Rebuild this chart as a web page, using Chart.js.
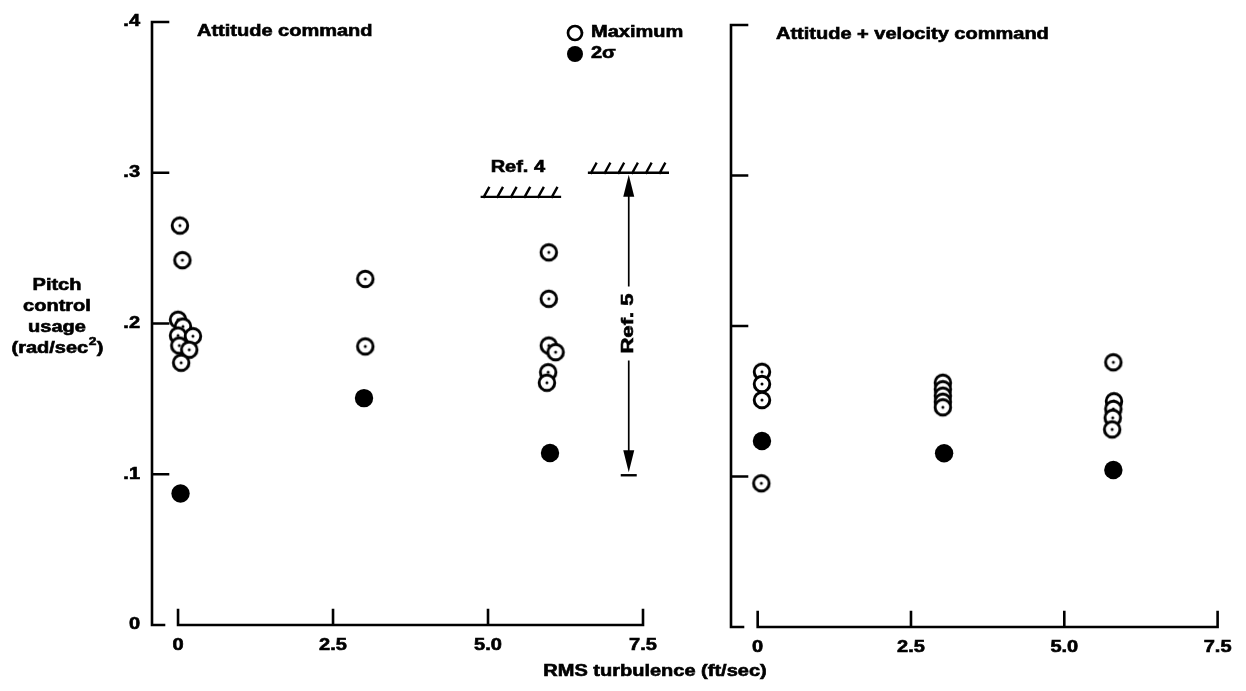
<!DOCTYPE html>
<html>
<head>
<meta charset="utf-8">
<script src="https://cdn.jsdelivr.net/npm/chart.js@4.4.1/dist/chart.umd.min.js"></script>
<style>
  html, body { margin: 0; padding: 0; background: #fff; }
  #wrap { position: relative; width: 1246px; height: 691px; }
  #wrap canvas { position: absolute; left: 0; top: 0; }
</style>
</head>
<body>
<div id="wrap">
  <canvas id="attitude" width="1246" height="691"></canvas>
  <canvas id="velocity" width="1246" height="691"></canvas>
</div>
<script>
// axis ticks (ft/sec on x, rad/sec^2 on y)
const yTicks = [0, 0.1, 0.2, 0.3, 0.4];
const yTickLabels = ['0', '.1', '.2', '.3', '.4'];
const xTicks = [0, 2.5, 5.0, 7.5];
const xTickLabels = ['0', '2.5', '5.0', '7.5'];

// attitude command: maximum (open) and 2 sigma (filled)
const attMaxX = [0.03, 0.07, 0.0, 0.08, 0.0, 0.24, 0.02, 0.18, 0.05, 3.02, 3.02, 5.98, 5.98, 5.98, 6.09, 5.97, 5.95];
const attMaxY = [0.265, 0.242, 0.2025, 0.198, 0.192, 0.1916, 0.1854, 0.1826, 0.174, 0.2296, 0.1848, 0.2472, 0.2164, 0.1854, 0.181, 0.1677, 0.1607];
const attSigmaX = [0.04, 3.0, 6.0];
const attSigmaY = [0.0872, 0.1505, 0.1141];

// attitude + velocity command
const velMaxX = [0.07, 0.07, 0.07, 0.06, 3.02, 3.02, 3.02, 3.02, 3.02, 5.80, 5.81, 5.80, 5.79, 5.78];
const velMaxY = [0.1696, 0.1615, 0.1508, 0.0955, 0.1623, 0.158, 0.1537, 0.1497, 0.146, 0.1759, 0.150, 0.1449, 0.139, 0.1313];
const velSigmaX = [0.07, 3.04, 5.80];
const velSigmaY = [0.1236, 0.1154, 0.1043];

// reference limits
const ref4X = [4.9, 6.16];
const ref4Y = 0.284;
const ref5X = [6.63, 7.9];
const ref5Y = [0.1, 0.3];
const ref5ArrowX = 7.27;

const FONT = '"Liberation Sans", Arial, Helvetica, sans-serif';
const SX = 1.25;

function txt(ctx, str, x, y, o = {}) {
  const size = o.size || 16;
  ctx.save();
  ctx.font = `bold ${size}px ${FONT}`;
  ctx.fillStyle = '#000';
  ctx.strokeStyle = '#000';
  ctx.lineWidth = 0.6;
  ctx.textAlign = o.align || 'center';
  ctx.textBaseline = o.baseline || 'middle';
  ctx.translate(x, y);
  if (o.rotate) ctx.rotate(o.rotate);
  ctx.scale(o.sx || SX, 1);
  ctx.fillText(str, 0, 0);
  ctx.strokeText(str, 0, 0);
  ctx.restore();
}

// open circle with a centre dot, white inside so later marks cover earlier ones
function ringDot() {
  const c = document.createElement('canvas');
  c.width = c.height = 24;
  const g = c.getContext('2d');
  g.beginPath();
  g.arc(12, 12, 7.8, 0, Math.PI * 2);
  g.fillStyle = '#fff';
  g.fill();
  g.lineWidth = 2.9;
  g.strokeStyle = '#000';
  g.stroke();
  g.beginPath();
  g.arc(12, 12, 1.5, 0, Math.PI * 2);
  g.fillStyle = '#000';
  g.fill();
  return c;
}
const openMark = ringDot();

function pts(xs, ys) {
  return xs.map((x, i) => ({ x, y: ys[i] }));
}

function hatch(ctx, x1, x2, y, n) {
  ctx.lineWidth = 2.4;
  ctx.beginPath();
  ctx.moveTo(x1, y);
  ctx.lineTo(x2, y);
  const step = (x2 - x1 - 10) / (n - 1);
  for (let i = 0; i < n; i++) {
    const bx = x1 + 2 + i * step;
    ctx.moveTo(bx, y);
    ctx.lineTo(bx + 5, y - 9);
  }
  ctx.stroke();
}

function arrowHead(ctx, x, tip, dir) {
  ctx.beginPath();
  ctx.moveTo(x, tip);
  ctx.lineTo(x - 5.5, tip + dir * 22);
  ctx.lineTo(x + 5.5, tip + dir * 22);
  ctx.closePath();
  ctx.fill();
}

const frame = {
  id: 'frame',
  afterDraw(chart, args, opts) {
    const ctx = chart.ctx;
    const xs = chart.scales.x, ys = chart.scales.y, a = chart.chartArea;
    const base = ys.getPixelForValue(0);
    ctx.save();
    ctx.strokeStyle = '#000';
    ctx.fillStyle = '#000';
    ctx.lineWidth = 2.6;
    ctx.lineCap = 'square';

    // y axis with inward ticks
    ctx.beginPath();
    ctx.moveTo(a.left, ys.getPixelForValue(0.4));
    ctx.lineTo(a.left, base);
    yTicks.forEach(v => {
      const py = ys.getPixelForValue(v);
      ctx.moveTo(a.left, py);
      ctx.lineTo(a.left + (v === 0 ? 12 : 16), py);
    });
    // x axis, detached from the y axis
    ctx.moveTo(xs.getPixelForValue(0), base);
    ctx.lineTo(xs.getPixelForValue(7.5), base);
    xTicks.forEach(v => {
      const px = xs.getPixelForValue(v);
      ctx.moveTo(px, base);
      ctx.lineTo(px, base - 15);
    });
    ctx.stroke();

    xTicks.forEach((v, i) => txt(ctx, xTickLabels[i], xs.getPixelForValue(v), base + 21));
    if (opts.yLabels) {
      yTicks.forEach((v, i) => txt(ctx, yTickLabels[i], a.left - 12, ys.getPixelForValue(v), { align: 'right' }));
    }
    txt(ctx, opts.title, opts.titleX, opts.titleY, { align: 'left', baseline: 'alphabetic' });

    if (opts.extras) {
      // legend
      ctx.lineWidth = 2.7;
      ctx.beginPath();
      ctx.arc(575, 33, 7, 0, Math.PI * 2);
      ctx.stroke();
      ctx.beginPath();
      ctx.arc(575, 54, 8, 0, Math.PI * 2);
      ctx.fill();
      txt(ctx, 'Maximum', 591, 33, { align: 'left' });
      txt(ctx, '2σ', 591, 54, { align: 'left' });

      // Ref. 4 limit
      const r4 = ys.getPixelForValue(ref4Y);
      hatch(ctx, xs.getPixelForValue(ref4X[0]), xs.getPixelForValue(ref4X[1]), r4, 6);
      txt(ctx, 'Ref. 4', (xs.getPixelForValue(ref4X[0]) + xs.getPixelForValue(ref4X[1])) / 2 - 3, r4 - 29);

      // Ref. 5 band with double arrow
      const top = ys.getPixelForValue(ref5Y[1]);
      const bot = ys.getPixelForValue(ref5Y[0]);
      hatch(ctx, xs.getPixelForValue(ref5X[0]), xs.getPixelForValue(ref5X[1]), top, 6);
      const ax = xs.getPixelForValue(ref5ArrowX);
      const mid = (top + bot) / 2;
      const half = 37;
      ctx.lineWidth = 1.7;
      ctx.lineCap = 'butt';
      ctx.beginPath();
      ctx.moveTo(ax, top + 10);
      ctx.lineTo(ax, mid - half);
      ctx.moveTo(ax, mid + half);
      ctx.lineTo(ax, bot - 10);
      ctx.stroke();
      arrowHead(ctx, ax, top + 2, 1);
      arrowHead(ctx, ax, bot - 2, -1);
      ctx.lineWidth = 2.4;
      ctx.beginPath();
      ctx.moveTo(ax - 8, bot + 1);
      ctx.lineTo(ax + 8, bot + 1);
      ctx.stroke();
      txt(ctx, 'Ref. 5', ax, mid, { rotate: -Math.PI / 2, size: 17, sx: 1.3 });

      // axis titles
      txt(ctx, 'RMS turbulence (ft/sec)', 655, 672);
      const lines = ['Pitch', 'control', 'usage'];
      lines.forEach((s, i) => txt(ctx, s, 57, 286 + i * 21));
      // unit line with superscript
      ctx.font = `bold 16px ${FONT}`;
      const w1 = ctx.measureText('(rad/sec').width * SX;
      ctx.font = `bold 11px ${FONT}`;
      const w2 = ctx.measureText('2').width * SX;
      ctx.font = `bold 16px ${FONT}`;
      const w3 = ctx.measureText(')').width * SX;
      const sx0 = 57 - (w1 + w2 + w3) / 2;
      txt(ctx, '(rad/sec', sx0, 349, { align: 'left' });
      txt(ctx, '2', sx0 + w1 + 0.5, 342, { align: 'left', size: 11 });
      txt(ctx, ')', sx0 + w1 + w2 + 1, 349, { align: 'left' });
    }
    ctx.restore();
  }
};

function panel(id, maxX, maxY, sigX, sigY, pad, xMin, xMax, opts) {
  return new Chart(document.getElementById(id), {
    type: 'scatter',
    data: {
      datasets: [
        {
          label: 'Maximum',
          data: pts(maxX, maxY),
          pointStyle: openMark,
          pointRadius: 9,
          pointHoverRadius: 9
        },
        {
          label: '2σ',
          data: pts(sigX, sigY),
          pointStyle: 'circle',
          pointRadius: 9.2,
          pointHoverRadius: 9.2,
          backgroundColor: '#000',
          borderWidth: 0
        }
      ]
    },
    options: {
      responsive: false,
      animation: false,
      events: [],
      layout: { padding: pad },
      scales: {
        x: { type: 'linear', min: xMin, max: xMax, display: false },
        y: { min: 0, max: 0.4, display: false }
      },
      plugins: {
        legend: { display: false },
        tooltip: { enabled: false },
        title: { display: false },
        frame: opts
      }
    },
    plugins: [frame]
  });
}

panel('attitude', attMaxX, attMaxY, attSigmaX, attSigmaY,
  { left: 152, right: 572, top: 22, bottom: 66 }, -0.42, 8.0,
  { yLabels: true, extras: true, title: 'Attitude command', titleX: 197, titleY: 36 });

panel('velocity', velMaxX, velMaxY, velSigmaX, velSigmaY,
  { left: 731, right: 4, top: 25, bottom: 64 }, -0.435, 7.8,
  { yLabels: false, extras: false, title: 'Attitude + velocity command', titleX: 776, titleY: 39 });
</script>
</body>
</html>
